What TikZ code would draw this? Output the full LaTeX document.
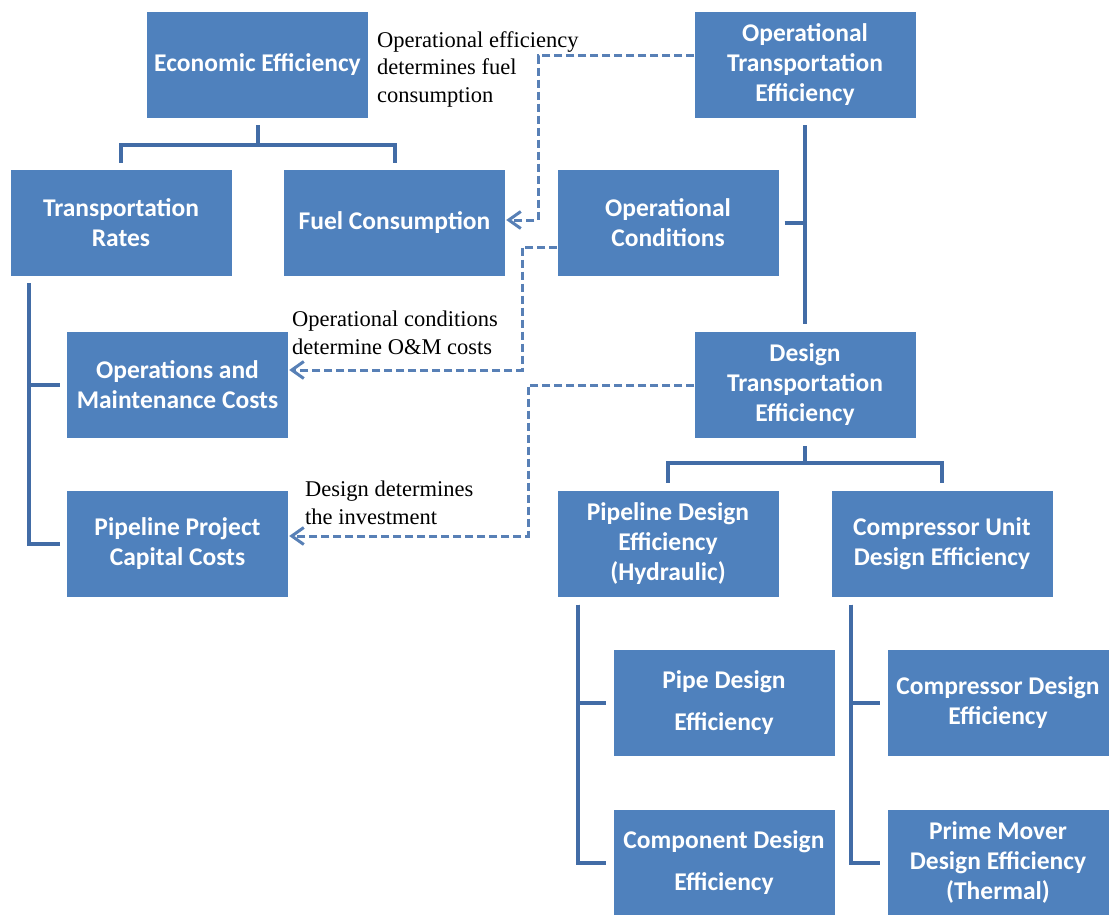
\documentclass[tikz,border=0pt]{standalone}
\usepackage{fontspec}
\setsansfont{Carlito}
\newfontfamily\notefont{Liberation Serif}
\usetikzlibrary{arrows.meta}
\definecolor{boxblue}{RGB}{79,129,189}
\definecolor{lineblue}{RGB}{66,108,166}
\definecolor{dashblue}{RGB}{88,128,182}

\begin{document}
\begin{tikzpicture}[x=1pt, y=-1pt,
  effbox/.style={rectangle, fill=boxblue, text=white, minimum width=221pt, minimum height=106pt, inner sep=0pt, align=center, font=\sffamily\bfseries\fontsize{25.5}{30}\selectfont},
  note/.style={anchor=north west, inner sep=0pt, align=left, font=\notefont\fontsize{22.5}{27.5}\selectfont},
  treeline/.style={draw=lineblue, line width=4pt},
  linkline/.style={draw=dashblue, line width=3pt, dash pattern=on 8pt off 4pt, shorten >=1pt, -{Straight Barb[length=12pt,width=17pt,line width=3pt]}}]
\useasboundingbox (0,0) rectangle (1109,915);

% top row
\node[effbox] (econ) at (257.5,65) {Economic Efficiency};
\node[effbox] (ote) at (805,65) {Operational\\Transportation\\Efficiency};

% second row
\node[effbox] (rates) at (121,223) {Transportation\\Rates};
\node[effbox] (fuel) at (394.5,223) {Fuel Consumption};
\node[effbox] (opcond) at (668,223) {Operational\\Conditions};

% third and fourth rows
\node[effbox] (om) at (177.5,385) {Operations and\\Maintenance Costs};
\node[effbox] (dte) at (805,385) {Design\\Transportation\\Efficiency};
\node[effbox] (capex) at (177.5,543.5) {Pipeline Project\\Capital Costs};
\node[effbox] (pipeline) at (668,543.5) {Pipeline Design\\Efficiency\\(Hydraulic)};
\node[effbox] (compunit) at (942,543.5) {Compressor Unit\\Design Efficiency};

% design details
\node[effbox] (pipe) at (724,703) {Pipe Design\\[12pt]Efficiency};
\node[effbox] (compressor) at (998,703) {Compressor Design\\Efficiency};
\node[effbox] (component) at (724,862.5) {Component Design\\[12pt]Efficiency};
\node[effbox] (primemover) at (998,862.5) {Prime Mover\\Design Efficiency\\(Thermal)};

% tree lines
\draw[treeline] ([yshift=-7pt]econ.south) -- ++(0,20) -| ([yshift=7pt]rates.north);
\draw[treeline] ([yshift=-7pt]econ.south) -- ++(0,20) -| ([yshift=7pt]fuel.north);
\draw[treeline] ([xshift=19pt,yshift=-7pt]rates.south west) |- ([xshift=-7pt]om.west);
\draw[treeline] ([xshift=19pt,yshift=-7pt]rates.south west) |- ([xshift=-7pt]capex.west);
\draw[treeline] ([yshift=-7pt]ote.south) -- ([yshift=8pt]dte.north);
\draw[treeline] ([xshift=6pt]opcond.east) -- (opcond.east -| ote.south);
\draw[treeline] ([yshift=-8pt]dte.south) -- ++(0,17) -| ([yshift=7pt]pipeline.north);
\draw[treeline] ([yshift=-8pt]dte.south) -- ++(0,17) -| ([yshift=7pt]compunit.north);
\draw[treeline] ([xshift=21pt,yshift=-8pt]pipeline.south west) |- ([xshift=-7pt]pipe.west);
\draw[treeline] ([xshift=21pt,yshift=-8pt]pipeline.south west) |- ([xshift=-7pt]component.west);
\draw[treeline] ([xshift=20pt,yshift=-8pt]compunit.south west) |- ([xshift=-7pt]compressor.west);
\draw[treeline] ([xshift=20pt,yshift=-8pt]compunit.south west) |- ([xshift=-7pt]primemover.west);

% dashed links with notes
\coordinate (fuelbend) at (538,220);
\coordinate (ombend) at (522,370);
\coordinate (capexbend) at (528,536);
\draw[linkline] ([yshift=9pt]ote.west) -| (fuelbend) -- (fuelbend -| fuel.east);
\draw[linkline] ([yshift=-24pt]opcond.west) -| (ombend) -- (ombend -| om.east);
\draw[linkline] (dte.west) -| (capexbend) -- (capexbend -| capex.east);

\node[note] (fuelnote) at (377,31) {Operational efficiency\\determines fuel\\consumption};
\node[note] (omnote) at (292,311) {Operational conditions\\determine O\&M costs};
\node[note] (capexnote) at (305,481) {Design determines\\the investment};
\end{tikzpicture}
\end{document}
